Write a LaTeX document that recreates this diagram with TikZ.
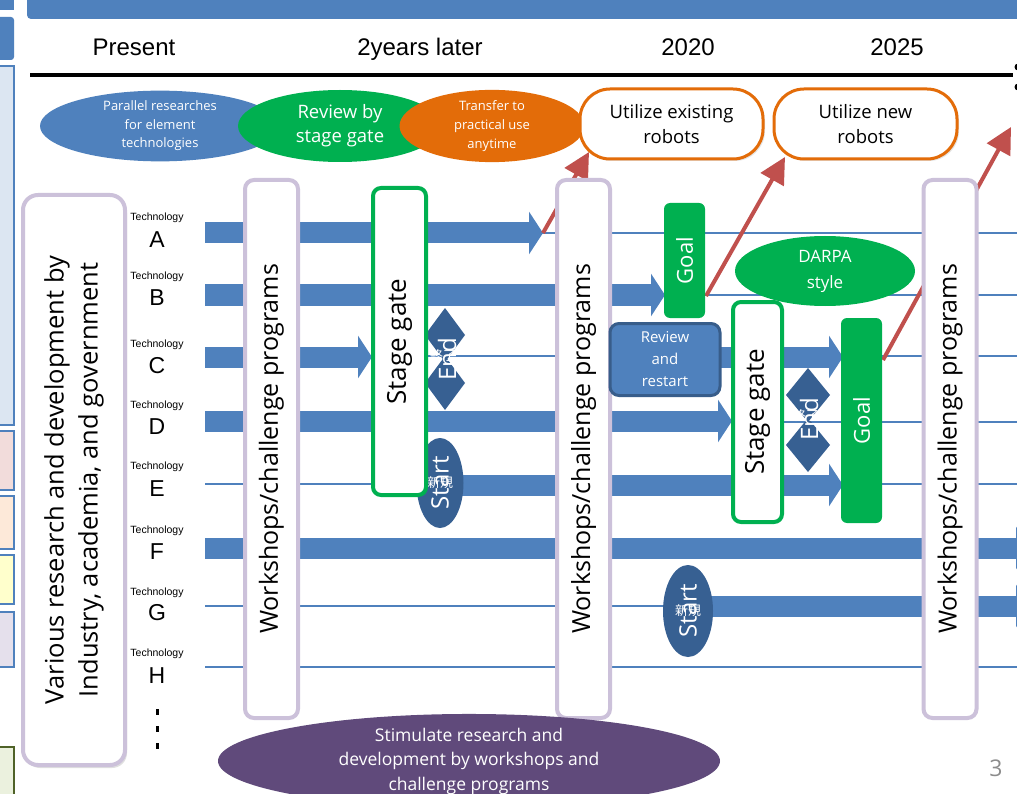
\documentclass[tikz,border=0pt]{standalone}
\usepackage{fontspec}
\setmainfont{Open Sans}
\newfontfamily\arial{Liberation Sans}
\newfontfamily\cjk{Noto Sans CJK JP}
\usetikzlibrary{arrows.meta,shapes.geometric,shadows}
\definecolor{barblue}{HTML}{4F81BD}
\definecolor{darkblue}{HTML}{376092}
\definecolor{borderblue}{HTML}{385D8A}
\definecolor{ggreen}{HTML}{00B050}
\definecolor{gorange}{HTML}{E36C09}
\definecolor{gred}{HTML}{C0504D}
\definecolor{lav}{HTML}{CCC1DA}
\definecolor{purp}{HTML}{604A7B}
\definecolor{pgray}{HTML}{8C8C8C}
\newcommand{\fs}[2]{\fontsize{#1}{#2}\selectfont}
\begin{document}
\begin{tikzpicture}[x=1pt,y=-1pt,
  thinrow/.style={draw=barblue, line width=1.5pt},
  fat/.style={draw=barblue, line width=21pt, -{Triangle[length=14pt,width=42pt]}},
  redarr/.style={draw=gred, line width=4pt, -{Triangle[length=26pt,width=26pt]}},
  wsbox/.style={draw=lav, line width=4pt, fill=white, rounded corners=9pt, rotate=90,
    minimum width=538pt, minimum height=53pt, inner sep=0pt, font=\fs{25}{30}},
  sgbox/.style={draw=ggreen, line width=4pt, fill=white, rounded corners=8pt, rotate=90,
    inner sep=0pt, font=\fs{26}{30}},
  goalbox/.style={fill=ggreen, text=white, rounded corners=6pt, rotate=90, inner sep=0pt,
    minimum height=41pt, font=\fs{22}{28}},
  topell/.style={ellipse, inner sep=0pt, text=white, align=center},
  usebox/.style={draw=gorange, line width=3pt, fill=white, rounded corners=30pt,
    minimum width=183pt, minimum height=70pt, align=center, font=\fs{18.5}{25},
    drop shadow={opacity=0.2, shadow xshift=2pt, shadow yshift=-2pt}},
  hdr/.style={font=\arial\fs{24}{26}, anchor=base},
  techw/.style={font=\arial\fs{10.5}{11}},
  techl/.style={font=\arial\fs{23}{26}},
  startell/.style={ellipse, fill=darkblue, inner sep=0pt},
  endtxt/.style={text=white, rotate=90, font=\fs{24}{24}, inner sep=0pt},
  jptxt/.style={text=white, font=\cjk\fs{13}{13}, inner sep=0pt},
  strip/.style={draw=barblue, line width=1.5pt}
]
\clip (0,0) rectangle (1017,794);
\fill[white] (0,0) rectangle (1017,794);

% left strip
\fill[barblue] (-5,-5) rectangle (14,10);
\fill[barblue, rounded corners=3pt] (-5,17) rectangle (14,60);
\filldraw[strip, fill={rgb,255:red,220;green,230;blue,242}] (-5,66) rectangle (14,425);
\filldraw[strip, fill={rgb,255:red,242;green,220;blue,219}] (-5,431) rectangle (14,490);
\filldraw[strip, fill={rgb,255:red,253;green,233;blue,217}] (-5,496) rectangle (14,549);
\filldraw[strip, fill={rgb,255:red,255;green,255;blue,204}] (-5,555) rectangle (14,604);
\filldraw[strip, fill={rgb,255:red,229;green,224;blue,236}] (-5,612) rectangle (14,667);
\filldraw[line width=1.5pt, draw={rgb,255:red,79;green,98;blue,40}, fill={rgb,255:red,235;green,241;blue,222}] (-5,747) rectangle (14,800);

% top bar
\fill[barblue, rounded corners=4pt] (27,-10) rectangle (1030,19);

% header
\node[hdr] (hp) at (134,56) {Present};
\node[hdr] (h2) at (420,56) {2years later};
\node[hdr] (h20) at (688,56) {2020};
\node[hdr] (h25) at (897,56) {2025};
\draw[line width=4.5pt] (30,75) -- (1013,75);
\fill (1018,67) circle (3.5pt);
\fill (1018,87) circle (3.5pt);

% rows
\foreach \yy in {233,295,356,422,484,548,606,667}
  \draw[thinrow] (205,\yy) -- (1017,\yy);

% thick arrows
\coordinate (a0) at (205,233); \coordinate (a1) at (543,233);
\coordinate (b0) at (205,295); \coordinate (b1) at (665,295);
\coordinate (c0) at (205,357); \coordinate (c1) at (372,357);
\coordinate (c2) at (718,357); \coordinate (c3) at (843,357);
\coordinate (d0) at (205,421); \coordinate (d1) at (732,421);
\coordinate (e0) at (460,485); \coordinate (e1) at (843,485);
\coordinate (f0) at (205,548); \coordinate (f1) at (1030,548);
\coordinate (g0) at (710,606); \coordinate (g1) at (1030,606);
\draw[fat] (a0) -- (a1);
\draw[fat] (b0) -- (b1);
\draw[fat] (c0) -- (c1);
\draw[fat] (c2) -- (c3);
\draw[fat] (d0) -- (d1);
\draw[fat] (e0) -- (e1);
\draw[fat] (f0) -- (f1);
\draw[fat] (g0) -- (g1);

% red arrows
\coordinate (r1s) at (543,233); \coordinate (r1e) at (589,152);
\coordinate (r2s) at (706,296); \coordinate (r2e) at (785,157);
\coordinate (r3s) at (883,360); \coordinate (r3e) at (1011,127);
\draw[redarr] (r1s) -- (r1e);
\draw[redarr] (r2s) -- (r2e);
\draw[redarr] (r3s) -- (r3e);

% top ellipses
\node[topell, fill=barblue, minimum width=240pt, minimum height=70pt, font=\fs{13}{18.5}] (par) at (160,126)
  {Parallel researches\\for element\\technologies};
\node[topell, fill=ggreen, minimum width=204pt, minimum height=72pt, font=\fs{18.5}{24}] (rev) at (340,126)
  {Review by\\stage gate};
\node[topell, fill=gorange, minimum width=185pt, minimum height=70pt, font=\fs{13}{19}] (tra) at (492,126)
  {Transfer to\\practical use\\anytime};
\node[usebox] (ue) at (671.5,124) {Utilize existing\\robots};
\node[usebox] (un) at (865.5,124) {Utilize new\\robots};

% workshop boxes
\node[wsbox] (w1) at (271.5,449) {Workshops/challenge programs};
\node[wsbox] (w2) at (583.5,449) {Workshops/challenge programs};
\node[wsbox] (w3) at (950,449) {Workshops/challenge programs};

% left box
\node[draw=lav, line width=4pt, fill=white, rounded corners=15pt, rotate=90,
  minimum width=570pt, minimum height=102pt, inner sep=0pt, align=center, font=\fs{25.5}{34},
  drop shadow={opacity=0.25, shadow xshift=2pt, shadow yshift=-3pt}] (lb) at (74,480)
  {Various research and development by\\Industry, academia, and government};

% end diamonds
\fill[darkblue] (445,308) -- (465,335) -- (445,362) -- (425,335) -- cycle;
\fill[darkblue] (445,356) -- (465,383) -- (445,410) -- (425,383) -- cycle;
\node[jptxt] (e1j) at (443,356) {終了};
\node[endtxt] (e1t) at (447,359) {End};
\fill[darkblue] (808,368) -- (830,395) -- (808,422) -- (786,395) -- cycle;
\fill[darkblue] (808,418) -- (830,445) -- (808,472) -- (786,445) -- cycle;
\node[jptxt] (e2j) at (806,416) {終了};
\node[endtxt] (e2t) at (809,419) {End};

% start ellipses
\node[startell, minimum width=47pt, minimum height=90pt] (s1) at (440,483) {};
\node[jptxt] at (s1) {新規};
\node[endtxt] at (s1) {Start};
\node[startell, minimum width=50pt, minimum height=92pt] (s2) at (688,611) {};
\node[jptxt] at (s2) {新規};
\node[endtxt] at (s2) {Start};

% stage gates
\node[sgbox, minimum width=307pt, minimum height=53pt] (sg1) at (399.5,341.5) {Stage gate};
\node[sgbox, minimum width=220pt, minimum height=49pt] (sg2) at (757.5,412) {Stage gate};

% goals
\node[goalbox, minimum width=115pt] (g1) at (684.5,260.5) {Goal};
\node[goalbox, minimum width=205pt] (g2) at (861.5,420.5) {Goal};

% review and restart
\node[draw=borderblue, line width=3pt, fill=barblue, rounded corners=9pt, minimum width=110pt,
  minimum height=72pt, inner sep=0pt, text=white, align=center, font=\fs{15}{22}] (rr) at (665,359.5)
  {Review\\and\\restart};

% DARPA
\node[topell, fill=ggreen, minimum width=180pt, minimum height=70pt, font=\fs{17}{26}] (darpa) at (825,271)
  {DARPA\\style};

% technology labels
\foreach \yw/\yl/\L in {218/240/A,277/298/B,345/366/C,406/427/D,467/489/E,531/552/F,593/613/G,654/676/H}{
  \node[techw] at (157,\yw) {Technology};
  \node[techl] at (157,\yl) {\L};
}
\foreach \yy in {712,729,746}
  \fill (155.5,\yy-3) rectangle (158.5,\yy+3);

% purple ellipse
\node[topell, fill=purp, minimum width=502pt, minimum height=78pt, font=\fs{17.5}{24.5}] (stim) at (469,761)
  {Stimulate research and\\development by workshops and\\challenge programs};

\node[text=pgray, font=\fs{23}{26}] (pg) at (996,768) {3};
\end{tikzpicture}
\end{document}
